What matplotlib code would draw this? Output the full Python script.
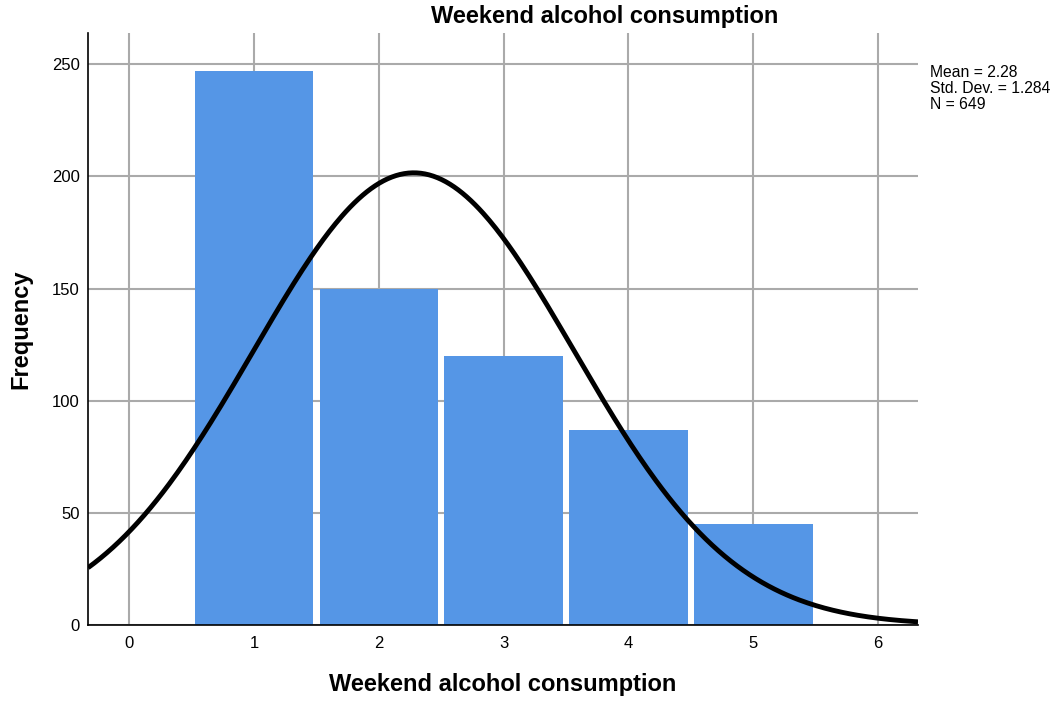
import numpy as np
import matplotlib
matplotlib.use("Agg")
from matplotlib import pyplot as plt

# histogram counts
levels = [1, 2, 3, 4, 5]
counts = [247, 150, 120, 87, 45]
mean = 2.28
std = 1.284
n = 649

plt.rcParams['font.family'] = ['Liberation Sans', 'DejaVu Sans']

fig = plt.figure(figsize=(10.57, 7.06), dpi=100)
ax = fig.add_axes([0.0833, 0.1147, 0.7852, 0.8386])

ax.bar(levels, counts, width=0.95, color='#5596e6', linewidth=0, zorder=2)

# normal curve scaled to the histogram
xs = np.linspace(-0.33, 6.32, 400)
ys = n * 1.0 / (std * np.sqrt(2 * np.pi)) * np.exp(-0.5 * ((xs - mean) / std) ** 2)
ax.plot(xs, ys, color='black', linewidth=3.5, zorder=3, solid_capstyle='butt')

ax.set_xlim(-0.33, 6.32)
ax.set_ylim(0, 264)
ax.set_xticks(range(0, 7))
ax.set_yticks([0, 50, 100, 150, 200, 250])
ax.grid(True, color='#aaaaaa', linewidth=1.5, zorder=0)
ax.set_axisbelow(True)
ax.tick_params(length=0, labelsize=12)
ax.tick_params(axis='x', pad=8)
ax.tick_params(axis='y', pad=6)
for s in ['top', 'right']:
    ax.spines[s].set_visible(False)
for s in ['left', 'bottom']:
    ax.spines[s].set_linewidth(1.2)
    ax.spines[s].set_zorder(4)

# title sits right of the plot centre, as in the original
fig.text(0.5724, 0.977, 'Weekend alcohol consumption', fontsize=17, fontweight='bold',
         ha='center', va='center')
ax.set_xlabel('Weekend alcohol consumption', fontsize=17, fontweight='bold', labelpad=16)
ax.set_ylabel('Frequency', fontsize=17, fontweight='bold', labelpad=14)

fig.text(0.8798, 0.908, 'Mean = 2.28\nStd. Dev. = 1.284\nN = 649', fontsize=11.3,
         va='top', ha='left', linespacing=1.08)

fig.savefig('out.png', dpi=100)
